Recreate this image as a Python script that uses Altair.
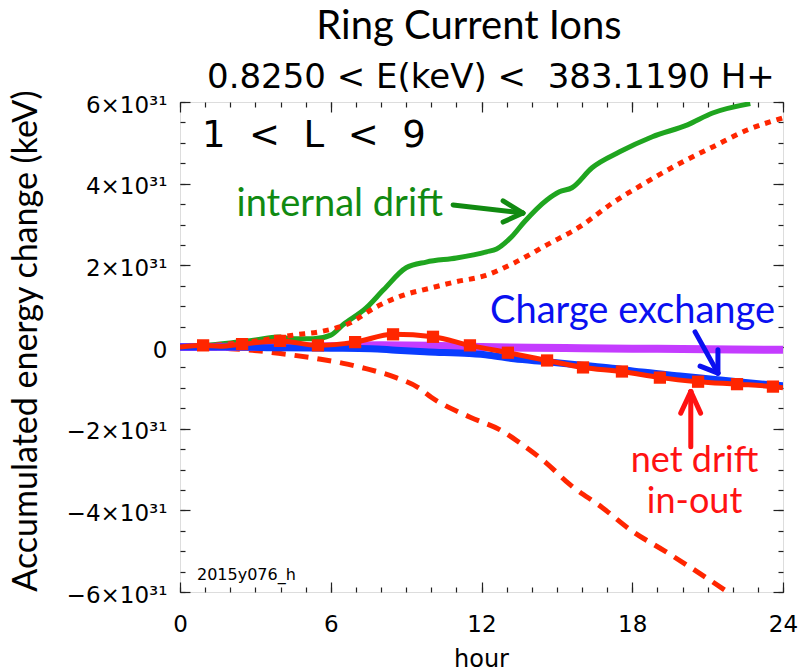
import altair as alt
import pandas as pd

# ---------------- data (energy in units of 1e31 keV, time in hours) ----------------
green_h = [0, 1, 2, 3, 3.9, 4.5, 5.3, 6.0, 6.5, 7.4, 8.1, 9.0, 9.8, 11.0, 12.2, 12.6, 13.2,
           13.7, 14.6, 15.1, 15.6, 16.4, 17.5, 18.8, 20.2, 21.2, 22.7]
green_v = [0, 0.04, 0.10, 0.17, 0.245, 0.20, 0.20, 0.29, 0.55, 0.95, 1.40, 1.94, 2.08, 2.18,
           2.33, 2.40, 2.70, 3.06, 3.60, 3.80, 3.90, 4.39, 4.78, 5.15, 5.44, 5.73, 5.96]

dotted_h = [0, 1, 2, 3.2, 4.5, 5.7, 6.7, 7.8, 8.9, 9.95, 11.0, 12.1, 13.3, 14.6, 15.9, 17.2,
            18.6, 19.9, 21.2, 22.6, 24]
dotted_v = [0, 0.03, 0.08, 0.16, 0.29, 0.39, 0.57, 0.98, 1.27, 1.44, 1.60, 1.74, 2.06, 2.50,
            2.94, 3.52, 4.05, 4.50, 4.90, 5.32, 5.61]

dashed_h = [0, 1, 2, 3.2, 4.0, 5.6, 6.5, 7.4, 8.6, 9.5, 10.0, 11.55, 12.8, 13.6, 14.56, 15.5,
            16.8, 18.0, 19.3, 20.25, 21.8]
dashed_v = [0, -0.01, -0.04, -0.10, -0.16, -0.30, -0.40, -0.53, -0.75, -1.00, -1.23, -1.72,
            -2.05, -2.38, -2.83, -3.36, -3.93, -4.51, -5.00, -5.37, -6.0]

purple_h = [0, 4, 6, 8, 10, 12, 14, 16, 18, 20, 22, 24]
purple_v = [0, 0.01, 0.02, 0.04, 0.03, 0.0, -0.02, -0.03, -0.04, -0.05, -0.06, -0.07]

blue_h = [0, 2, 4, 6, 7.6, 8.6, 9.9, 11.5, 12.3, 13.3, 14.6, 15.9, 17.2, 18.5, 19.9, 21.2,
          22.5, 24]
blue_v = [0, 0.0, -0.02, -0.03, -0.04, -0.08, -0.12, -0.16, -0.20, -0.29, -0.36, -0.44,
          -0.52, -0.62, -0.71, -0.79, -0.87, -0.95]

net_h = [0, 0.92, 1.6, 2.47, 3.98, 5.49, 6.97, 8.48, 10.07, 11.54, 13.05, 14.61, 16.04,
         17.59, 19.1, 20.62, 22.17, 23.6, 24]
net_v = [0, 0.04, 0.02, 0.07, 0.15, 0.04, 0.12, 0.31, 0.25, 0.04, -0.14, -0.33, -0.50,
         -0.60, -0.75, -0.85, -0.91, -0.97, -1.0]
marker_h = [0.92, 2.47, 3.98, 5.49, 6.97, 8.48, 10.07, 11.54, 13.05, 14.61, 16.04, 17.59,
            19.1, 20.62, 22.17, 23.6]
marker_v = [0.04, 0.07, 0.15, 0.04, 0.12, 0.31, 0.25, 0.04, -0.14, -0.33, -0.50, -0.60,
            -0.75, -0.85, -0.91, -0.97]

x_major = [0, 6, 12, 18, 24]
x_minor = list(range(0, 25))
y_major = [-6, -4, -2, 0, 2, 4, 6]
y_minor = [i / 2 for i in range(-12, 13)]

title_text = "Ring Current Ions"
subtitle_text = "0.8250 < E(keV) <\u00a0\u00a0383.1190 H+"
lrange_text = "1\u00a0\u00a0<\u00a0\u00a0L\u00a0\u00a0<\u00a0\u00a09"
stamp_text = "2015y076_h"
xtitle_text = "hour"
ytitle_text = "Accumulated energy change (keV)"

# arrows: segments (x, y) -> (x2, y2) in data coordinates
arrow_seg = pd.DataFrame({
    "x":  [10.87, 13.65, 13.65, 20.50, 21.41, 21.41, 20.33, 20.33, 20.33],
    "y":  [3.48, 3.28, 3.28, 0.37, -0.64, -0.64, -2.44, -1.09, -1.09],
    "x2": [13.65, 12.86, 12.86, 21.41, 21.41, 20.70, 20.33, 19.93, 20.72],
    "y2": [3.28, 3.58, 3.06, -0.64, -0.07, -0.47, -1.09, -1.62, -1.62],
    "c":  ["g", "g", "g", "b", "b", "b", "r", "r", "r"],
})

ann_df = pd.DataFrame({
    "t": ["internal drift", "Charge exchange", "net drift", "in-out"],
    "hour": [10.47, 12.34, 20.48, 20.48],
    "val": [3.48, 0.86, -2.78, -3.80],
    "c": ["g", "b", "r", "r"],
    "a": ["right", "left", "center", "center"],
    "s": [38, 38, 36, 36],
})

# ---------------- chart ----------------
W, H = 603, 490
xs = alt.Scale(domain=[0, 24], nice=False, zero=False)
ys = alt.Scale(domain=[-6, 6], nice=False, zero=False)

GREEN_LINE = "#1fa51f"
GREEN_TXT = "#118a11"
BLUE_LINE = "#0a3cff"
BLUE_TXT = "#0a10f0"
RED = "#ff2600"
RED_TXT = "#ff1212"
PURPLE = "#c43cff"

IDL_FONT = "DejaVu Sans"
OFFICE_FONT = "Lato"

x_lab = alt.Axis(orient="bottom", values=x_major, ticks=False, tickSize=0, domain=False,
                 grid=False, labelFont=IDL_FONT, labelFontSize=23, labelColor="black",
                 labelPadding=39, labelBaseline="alphabetic", labelFlush=False,
                 labelOverlap=False, title=None, format="d")
y_lab = alt.Axis(orient="left", values=y_major, ticks=False, tickSize=0, domain=False,
                 grid=False, labelFont=IDL_FONT, labelFontSize=23, labelColor="black",
                 labelPadding=13, labelBaseline="middle", labelOffset=3, labelFlush=False,
                 labelOverlap=False, title=None,
                 labelExpr="datum.value == 0 ? '0' : (datum.value < 0 ? '−' : '') + abs(datum.value) + '×10³¹'")


def line(h, v, color, width, dash=None, xa=None, ya=None):
    df = pd.DataFrame({"hour": h, "val": v})
    kw = dict(color=color, strokeWidth=width, clip=True, interpolate="monotone")
    if dash:
        kw["strokeDash"] = dash
    return alt.Chart(df).mark_line(**kw).encode(
        x=alt.X("hour:Q", scale=xs, axis=xa),
        y=alt.Y("val:Q", scale=ys, axis=ya),
    )


green = line(green_h, green_v, GREEN_LINE, 5, xa=x_lab, ya=y_lab)
dotted = line(dotted_h, dotted_v, RED, 5, dash=[6, 6])
dashed = line(dashed_h, dashed_v, RED, 5, dash=[14, 9])
purple = line(purple_h, purple_v, PURPLE, 8)
blue = line(blue_h, blue_v, BLUE_LINE, 7)
net = line(net_h, net_v, RED, 5)
markers = alt.Chart(pd.DataFrame({"hour": marker_h, "val": marker_v})).mark_point(
    shape="square", filled=True, size=150, color=RED, opacity=1
).encode(x=alt.X("hour:Q", scale=xs, axis=None), y=alt.Y("val:Q", scale=ys, axis=None))

cmap = alt.Scale(domain=["g", "b", "r"], range=[GREEN_TXT, BLUE_TXT, RED_TXT])
arrows = alt.Chart(arrow_seg).mark_rule(strokeWidth=5, strokeCap="round").encode(
    x=alt.X("x:Q", scale=xs, axis=None), y=alt.Y("y:Q", scale=ys, axis=None),
    x2="x2:Q", y2="y2:Q",
    color=alt.Color("c:N", scale=cmap, legend=None),
)

ann_layers = []
for i in range(len(ann_df)):
    row = ann_df.iloc[[i]]
    ann_layers.append(
        alt.Chart(row).mark_text(font=OFFICE_FONT, fontSize=int(row["s"].iloc[0]),
                                 align=row["a"].iloc[0], baseline="middle").encode(
            x=alt.X("hour:Q", scale=xs, axis=None), y=alt.Y("val:Q", scale=ys, axis=None),
            text="t:N", color=alt.Color("c:N", scale=cmap, legend=None))
    )


def free_text(txt, x, y, font, size, align="left", baseline="alphabetic", angle=0):
    kw = dict(font=font, fontSize=size, align=align, baseline=baseline, color="black")
    if angle:
        kw["angle"] = angle
    return alt.Chart(pd.DataFrame({"t": [txt]})).mark_text(**kw).encode(
        text="t:N", x=alt.value(x), y=alt.value(y))


texts = [
    free_text(title_text, 289, -63, OFFICE_FONT, 40, align="center"),
    free_text(subtitle_text, 27, -14, IDL_FONT, 34),
    free_text(lrange_text, 22, 45, IDL_FONT, 37),
    free_text(stamp_text, 17, 478, IDL_FONT, 16),
    free_text(xtitle_text, W / 2, 565, IDL_FONT, 24, align="center"),
    free_text(ytitle_text, -143, 239, OFFICE_FONT, 34, align="center", angle=270),
]

anchor = pd.DataFrame({"hour": [0], "val": [0]})


def tick_layer(ox, oy, xv, yv, L):
    def ax(orient, vals):
        return alt.Axis(orient=orient, values=vals, ticks=True, tickSize=L, tickWidth=1.2,
                        tickColor="#222222", domain=False, labels=False, grid=False,
                        title=None, offset=-L)
    return alt.Chart(anchor).mark_point(opacity=0).encode(
        x=alt.X("hour:Q", scale=xs, axis=ax(ox, xv)),
        y=alt.Y("val:Q", scale=ys, axis=ax(oy, yv)),
    )


ticks = [
    tick_layer("bottom", "left", x_major, y_major, 10),
    tick_layer("bottom", "left", x_minor, y_minor, 5),
    tick_layer("top", "right", x_major, y_major, 10),
    tick_layer("top", "right", x_minor, y_minor, 5),
]

chart = alt.layer(
    green, dotted, dashed, purple, blue, net, markers, arrows, *ann_layers, *texts, *ticks
).resolve_axis(x="independent", y="independent").properties(
    width=W, height=H,
    autosize=alt.AutoSizeParams(type="none"),
    padding={"left": 180, "top": 102, "right": 21, "bottom": 80},
).configure_view(stroke="#222222", strokeWidth=1.5).configure(background="white")

chart.save("out.html", embed_options={"renderer": "svg", "actions": False})
